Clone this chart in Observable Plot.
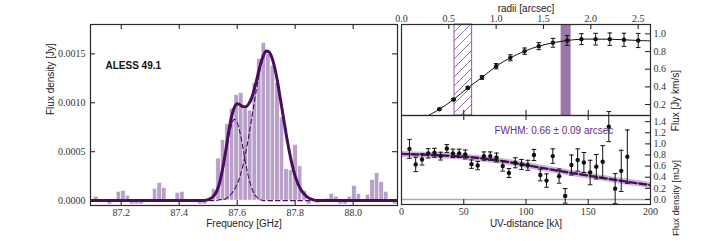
<!DOCTYPE html>
<html><head><meta charset="utf-8">
<script src="https://cdn.jsdelivr.net/npm/d3@7"></script>
<script src="https://cdn.jsdelivr.net/npm/@observablehq/plot@0.6"></script>
<style>
body{margin:0;background:#fff}
#wrap{position:relative;width:723px;height:241px;background:#fff;overflow:hidden}
#wrap svg{position:absolute;left:0;top:0}
</style></head><body><div id="wrap"></div>
<script>
// ---------- Spectrum (left panel) ----------
const specFreq = [87.0983, 87.1139, 87.1295, 87.1451, 87.1608, 87.1764, 87.1920, 87.2076, 87.2233, 87.2389,
  87.2545, 87.2701, 87.2858, 87.3014, 87.3170, 87.3326, 87.3483, 87.3639, 87.3795, 87.3951,
  87.4108, 87.4264, 87.4420, 87.4576, 87.4733, 87.4889, 87.5045, 87.5201, 87.5358, 87.5514,
  87.5670, 87.5826, 87.5983, 87.6139, 87.6295, 87.6451, 87.6608, 87.6764, 87.6920, 87.7076,
  87.7233, 87.7389, 87.7545, 87.7701, 87.7858, 87.8014, 87.8170, 87.8326, 87.8483, 87.8639,
  87.8795, 87.8951, 87.9108, 87.9264, 87.9420, 87.9576, 87.9733, 87.9889, 88.0045, 88.0201,
  88.0358, 88.0514, 88.0670, 88.0826, 88.0983, 88.1139, 88.1295, 88.1451];
const specFlux = [0, 0.00004, 0.00001, 0, -0.00004, 0.00001, 0.00009, 0.0001, 0.00005, -0.00004,
  -0.00004, -0.00004, 0.00001, 0, 0.00012, 0.00018, 0.00013, 0.00001, 0, 0.00008,
  0.00009, 0.00001, 0, 0.00001, -0.00004, -0.00004, 0.00001, 0.00012, 0.00043, 0.00062,
  0.00078, 0.00094, 0.00108, 0.0011, 0.00094, 0.00092, 0.0012, 0.00145, 0.00161, 0.0015,
  0.00138, 0.0012, 0.00085, 0.00032, 0.00031, 0.00057, 0.00035, 0.0001, -0.00004, 0.00001,
  -0.00003, 0, 0.00002, 0.00007, 0.00004, -0.00004, -0.00004, 0.00004, 0.00015, 0.00007,
  0.00001, 0.00006, 0.00021, 0.00028, 0.00019, 0.00009, 0.00001, -0.00004];
const binWidth = 0.015625;
const fitFreq = [87.09, 87.46, 87.48, 87.50, 87.52, 87.53, 87.54, 87.55, 87.56, 87.57,
  87.58, 87.59, 87.60, 87.61, 87.62, 87.63, 87.64, 87.65, 87.66, 87.67,
  87.68, 87.69, 87.70, 87.71, 87.72, 87.73, 87.74, 87.75, 87.76, 87.77,
  87.78, 87.79, 87.80, 87.81, 87.82, 87.84, 87.86, 87.88, 87.90, 88.16];
const fitTotal = [0, 0, 0, 0.00001, 0.00005, 0.0001, 0.00019, 0.00033, 0.0005, 0.00069,
  0.00085, 0.00095, 0.00099, 0.00098, 0.00096, 0.00096, 0.00099, 0.00105, 0.00115, 0.00127,
  0.00139, 0.00148, 0.00153, 0.00152, 0.00146, 0.00135, 0.0012, 0.00102, 0.00084, 0.00066,
  0.0005, 0.00036, 0.00025, 0.00017, 0.00011, 0.00004, 0.00001, 0, 0, 0];
const fitComp1 = [0, 0, 0, 0.00001, 0.00005, 0.0001, 0.00018, 0.00031, 0.00047, 0.00063,
  0.00077, 0.00083, 0.0008, 0.00069, 0.00054, 0.00037, 0.00023, 0.00013, 0.00006, 0.00003,
  0.00001, 0, 0, 0, 0, 0, 0, 0, 0, 0,
  0, 0, 0, 0, 0, 0, 0, 0, 0, 0];
const fitComp2 = [0, 0, 0, 0, 0, 0, 0.00001, 0.00001, 0.00002, 0.00004,
  0.00007, 0.00011, 0.00017, 0.00025, 0.00036, 0.0005, 0.00066, 0.00084, 0.00102, 0.0012,
  0.00135, 0.00146, 0.00152, 0.00152, 0.00146, 0.00135, 0.0012, 0.00102, 0.00084, 0.00066,
  0.0005, 0.00036, 0.00025, 0.00017, 0.00011, 0.00004, 0.00001, 0, 0, 0];
const freqTicks = [87.2, 87.4, 87.6, 87.8, 88.0];
const specYTicks = [0, 0.0005, 0.001, 0.0015];
const sourceName = "ALESS 49.1";

// ---------- Curve of growth (top right) ----------
const cogRadius = [0.10, 0.25, 0.40, 0.55, 0.70, 0.85, 1.00, 1.15, 1.30, 1.45, 1.60, 1.75, 1.90, 2.05, 2.20, 2.35, 2.50, 2.65];
const cogFlux   = [0.01, 0.06, 0.147, 0.257, 0.39, 0.506, 0.634, 0.729, 0.804, 0.861, 0.899, 0.925, 0.94, 0.94, 0.94, 0.933, 0.925, 0.92];
const cogErr    = [0.005, 0.008, 0.01, 0.012, 0.015, 0.02, 0.03, 0.034, 0.036, 0.04, 0.05, 0.055, 0.062, 0.066, 0.07, 0.074, 0.08, 0.083];
const hatchBand = [0.56, 0.746];
const solidBand = [1.686, 1.792];
const radiiTicks = [0, 0.5, 1.0, 1.5, 2.0, 2.5];
const cogYTicks = [0.2, 0.4, 0.6, 0.8, 1.0];

// ---------- UV amplitudes (bottom right) ----------
const uvDist = [6.4, 11.4, 16.5, 21.5, 26.5, 31.4, 36.4, 41.3, 46.3, 51.2, 56.2, 61.2, 66.2, 71.3, 76.3, 81.3, 86.3, 91.4,
  96.4, 101.5, 106.4, 111.5, 116.5, 121.5, 126.6, 131.5, 136.5, 141.5, 146.5, 151.5, 156.5, 161.6, 166.5, 171.6, 176.5, 181.4];
const uvAmp = [0.91, 0.63, 0.72, 0.83, 0.84, 0.78, 0.917, 0.83, 0.83, 0.81, 0.635, 0.61, 0.78, 0.78, 0.755, 0.60, 0.475, 0.66,
  0.63, 0.615, 0.80, 0.44, 0.34, 0.78, 0.42, 0.065, 0.62, 0.71, 0.665, 0.485, 0.59, 0.678, 1.31, 0.195, 0.515, 0.77];
const uvErr = [0.17, 0.13, 0.1, 0.085, 0.08, 0.07, 0.07, 0.075, 0.075, 0.08, 0.075, 0.075, 0.075, 0.075, 0.08, 0.09, 0.08, 0.09,
  0.09, 0.09, 0.1, 0.105, 0.12, 0.13, 0.127, 0.13, 0.18, 0.2, 0.18, 0.22, 0.22, 0.29, 0.27, 0.27, 0.37, 0.48];
const modelUV  = [0, 25, 50, 75, 100, 125, 150, 175, 200];
const modelAmp = [0.82, 0.80, 0.77, 0.71, 0.62, 0.52, 0.43, 0.34, 0.26];
const uvTicks = [0, 50, 100, 150, 200];
const uvYTicks = [0, 0.2, 0.4, 0.6, 0.8, 1.0, 1.2, 1.4];
const fwhmText = "FWHM: 0.66 \u00b1 0.09 arcsec";

// ---------- styling ----------
const W = 723, H = 241;
const serif = "'Liberation Serif', 'DejaVu Serif', serif", sans = "Liberation Sans";
const dark = "#4a0d5c", barFill = "#b8a0c9", frameCol = "#2a2a2a";
const hatchCol = "#8a5aa6", solidCol = "#9c78a8", fwhmCol = "#6a2d7e";
const baseStyle = {fontFamily: sans, fontSize: "10px", background: "transparent", overflow: "visible", color: "#111"};
const wrap = document.getElementById("wrap");
const capSymbol = {draw(ctx, size) { const w = Math.sqrt(size / Math.PI); ctx.moveTo(-w, 0); ctx.lineTo(w, 0); }};
const TL = 5; // tick length

function inTicksX(vals, plotH, where) {
  return Plot.ruleX(vals, where === "bottom" ? {insetTop: plotH - TL, stroke: frameCol, strokeWidth: 1.1}
                                             : {insetBottom: plotH - TL, stroke: frameCol, strokeWidth: 1.1});
}
function inTicksY(vals, plotW, where) {
  return Plot.ruleY(vals, where === "left" ? {insetRight: plotW - TL, stroke: frameCol, strokeWidth: 1.1}
                                           : {insetLeft: plotW - TL, stroke: frameCol, strokeWidth: 1.1});
}
function serifTicks(svg) {
  d3.select(svg).selectAll("text")
    .filter(function() { return /^[\d.\u2212-]+$/.test(this.textContent.trim()); })
    .style("font-family", serif).style("font-size", "10px");
}

// ===== Left panel =====
{
  const mL = 90, mR = W - 397, mT = 24, mB = H - 205;
  const pW = W - mL - mR, pH = H - mT - mB;
  const bins = specFreq.map((f, i) => ({f, v: specFlux[i]}));
  const fit = fitFreq.map((f, i) => ({f, t: fitTotal[i], c1: fitComp1[i], c2: fitComp2[i]}));
  const svg = Plot.plot({
    width: W, height: H, marginLeft: mL, marginRight: mR, marginTop: mT, marginBottom: mB,
    style: baseStyle,
    x: {domain: [87.094, 88.153]},
    y: {domain: [-0.00005, 0.0018]},
    marks: [
      Plot.rect(bins, {x1: d => d.f - binWidth / 2, x2: d => d.f + binWidth / 2, y1: d => 0, y2: "v",
        fill: barFill, stroke: "white", strokeWidth: 0.6, clip: true}),
      Plot.line(fit, {x: "f", y: "c1", stroke: dark, strokeWidth: 1.1, strokeDasharray: "4.5,3", curve: "monotone-x", clip: true}),
      Plot.line(fit, {x: "f", y: "c2", stroke: dark, strokeWidth: 1.1, strokeDasharray: "4.5,3", curve: "monotone-x", clip: true}),
      Plot.line(fit, {x: "f", y: "t", stroke: dark, strokeWidth: 3, curve: "monotone-x", clip: true}),
      Plot.frame({stroke: frameCol, strokeWidth: 1.2}),
      inTicksX(freqTicks, pH, "bottom"), inTicksX(freqTicks, pH, "top"),
      inTicksY(specYTicks, pW, "left"), inTicksY(specYTicks, pW, "right"),
      Plot.axisX(freqTicks, {anchor: "bottom", tickSize: 0, tickPadding: 3, tickFormat: d3.format(".1f"),
        label: null, fill: "#333"}),
      Plot.axisY(specYTicks, {anchor: "left", tickSize: 0, tickPadding: 5, tickFormat: d3.format(".4f"),
        label: null, fill: "#333"}),
      Plot.text(["Frequency [GHz]"], {text: d => d, frameAnchor: "bottom", dy: 21, fontFamily: sans, fontSize: 10, fill: "#222"}),
      Plot.text(["Flux density [Jy]"], {text: d => d, frameAnchor: "left", dx: -40, rotate: -90, fontFamily: sans, fontSize: 10, fill: "#222"}),
      Plot.text([sourceName], {text: d => d, frameAnchor: "top-left", dx: 15, dy: 37, textAnchor: "start",
        fontFamily: sans, fontSize: 10, fontWeight: "bold", fill: "#111"})
    ]
  });
  serifTicks(svg);
  wrap.appendChild(svg);
}

// ===== Top right panel =====
const rMax = 2.63, uvMax = 200;
{
  const mL = 401, mR = W - 650, mT = 24, mB = H - 115;
  const pW = W - mL - mR, pH = H - mT - mB;
  const pts = cogRadius.map((r, i) => ({r, f: cogFlux[i], e: cogErr[i]}));
  const svg = Plot.plot({
    width: W, height: H, marginLeft: mL, marginRight: mR, marginTop: mT, marginBottom: mB,
    style: baseStyle,
    x: {domain: [0, rMax]},
    y: {domain: [0.076, 1.106]},
    marks: [
      Plot.rect([hatchBand], {x1: d => d[0], x2: d => d[1], fill: "#010203", stroke: hatchCol, strokeWidth: 1}),
      Plot.rect([solidBand], {x1: d => d[0], x2: d => d[1], fill: solidCol}),
      Plot.line(pts, {x: "r", y: "f", stroke: "#111", strokeWidth: 1, curve: "catmull-rom", clip: true}),
      Plot.ruleX(pts, {x: "r", y1: d => d.f - d.e, y2: d => d.f + d.e, stroke: "#111", strokeWidth: 1, clip: true}),
      Plot.dot(pts, {x: "r", y: d => d.f - d.e, symbol: capSymbol, r: 2.3, stroke: "#111", fill: "none", strokeWidth: 1, clip: true}),
      Plot.dot(pts, {x: "r", y: d => d.f + d.e, symbol: capSymbol, r: 2.3, stroke: "#111", fill: "none", strokeWidth: 1, clip: true}),
      Plot.dot(pts, {x: "r", y: "f", r: 2.2, fill: "#111", stroke: "none", clip: true}),
      Plot.frame({stroke: frameCol, strokeWidth: 1.2}),
      inTicksX(radiiTicks.filter(t => t > 0), pH, "top"),
      inTicksX(uvTicks.filter(t => t > 0 && t < uvMax).map(u => u * rMax / uvMax), pH, "bottom"),
      inTicksY(cogYTicks, pW, "right"),
      Plot.axisX(radiiTicks, {anchor: "top", tickSize: 0, tickPadding: 3, tickFormat: d3.format(".1f"),
        label: null, fill: "#333"}),
      Plot.axisY(cogYTicks, {anchor: "right", tickSize: 0, tickPadding: 3, tickFormat: d3.format(".1f"),
        label: null, fill: "#333"}),
      Plot.text(["radii [arcsec]"], {text: d => d, frameAnchor: "top", dy: -20, fontFamily: sans, fontSize: 10, fill: "#222"}),
      Plot.text(["Flux [Jy km/s]"], {text: d => d, frameAnchor: "right", dx: 25, rotate: -90, fontFamily: sans, fontSize: 10, fill: "#222"})
    ]
  });
  const defs = d3.select(svg).insert("defs", ":first-child");
  const pat = defs.append("pattern").attr("id", "hatch").attr("patternUnits", "userSpaceOnUse")
    .attr("width", 9).attr("height", 9);
  pat.append("rect").attr("width", 9).attr("height", 9).attr("fill", "white");
  pat.append("path").attr("d", "M-1,1 L1,-1 M0,9 L9,0 M8,10 L10,8")
    .attr("stroke", hatchCol).attr("stroke-width", 0.9).attr("fill", "none");
  d3.select(svg).selectAll('[fill="#010203"]').attr("fill", "url(#hatch)");
  serifTicks(svg);
  wrap.appendChild(svg);
}

// ===== Bottom right panel =====
{
  const mL = 401, mR = W - 650, mT = 115, mB = H - 204;
  const pW = W - mL - mR, pH = H - mT - mB;
  const pts = uvDist.map((u, i) => ({u, a: uvAmp[i], e: uvErr[i]}));
  const model = modelUV.map((u, i) => ({u, a: modelAmp[i]}));
  const svg = Plot.plot({
    width: W, height: H, marginLeft: mL, marginRight: mR, marginTop: mT, marginBottom: mB,
    style: baseStyle,
    x: {domain: [0, uvMax]},
    y: {domain: [-0.09, 1.51]},
    marks: [
      Plot.ruleY([0], {stroke: "#aaaaaa", strokeWidth: 1.5}),
      Plot.line(model, {x: "u", y: "a", stroke: "#cdb9d8", strokeWidth: 6, curve: "natural", clip: true}),
      Plot.line(model, {x: "u", y: "a", stroke: dark, strokeWidth: 2.4, strokeDasharray: "7,3", curve: "natural", clip: true}),
      Plot.ruleX(pts, {x: "u", y1: d => d.a - d.e, y2: d => d.a + d.e, stroke: "#111", strokeWidth: 1}),
      Plot.dot(pts, {x: "u", y: d => d.a - d.e, symbol: capSymbol, r: 2.3, stroke: "#111", fill: "none", strokeWidth: 1}),
      Plot.dot(pts, {x: "u", y: d => d.a + d.e, symbol: capSymbol, r: 2.3, stroke: "#111", fill: "none", strokeWidth: 1}),
      Plot.dot(pts, {x: "u", y: "a", r: 2.2, fill: "#111", stroke: "none"}),
      Plot.frame({stroke: frameCol, strokeWidth: 1.2}),
      inTicksX(uvTicks.filter(t => t > 0 && t < uvMax), pH, "bottom"),
      inTicksX(uvTicks.filter(t => t > 0 && t < uvMax), pH, "top"),
      inTicksY(uvYTicks, pW, "right"),
      Plot.axisX(uvTicks, {anchor: "bottom", tickSize: 0, tickPadding: 3, tickFormat: d3.format("d"),
        label: null, fill: "#333"}),
      Plot.axisY(uvYTicks, {anchor: "right", tickSize: 0, tickPadding: 3, tickFormat: d3.format(".1f"),
        label: null, fill: "#333"}),
      Plot.text(["UV-distance [k\u03bb]"], {text: d => d, frameAnchor: "bottom", dy: 22, fontFamily: sans, fontSize: 10, fill: "#222"}),
      Plot.text(["Flux density [mJy]"], {text: d => d, frameAnchor: "right", dx: 25, rotate: -90, fontFamily: sans, fontSize: 9.5, fill: "#222"}),
      Plot.text([fwhmText], {text: d => d, frameAnchor: "top-left", dx: 93, dy: 11, textAnchor: "start",
        fontFamily: sans, fontSize: 10, fill: fwhmCol})
    ]
  });
  serifTicks(svg);
  wrap.appendChild(svg);
}
</script>
</body></html>
